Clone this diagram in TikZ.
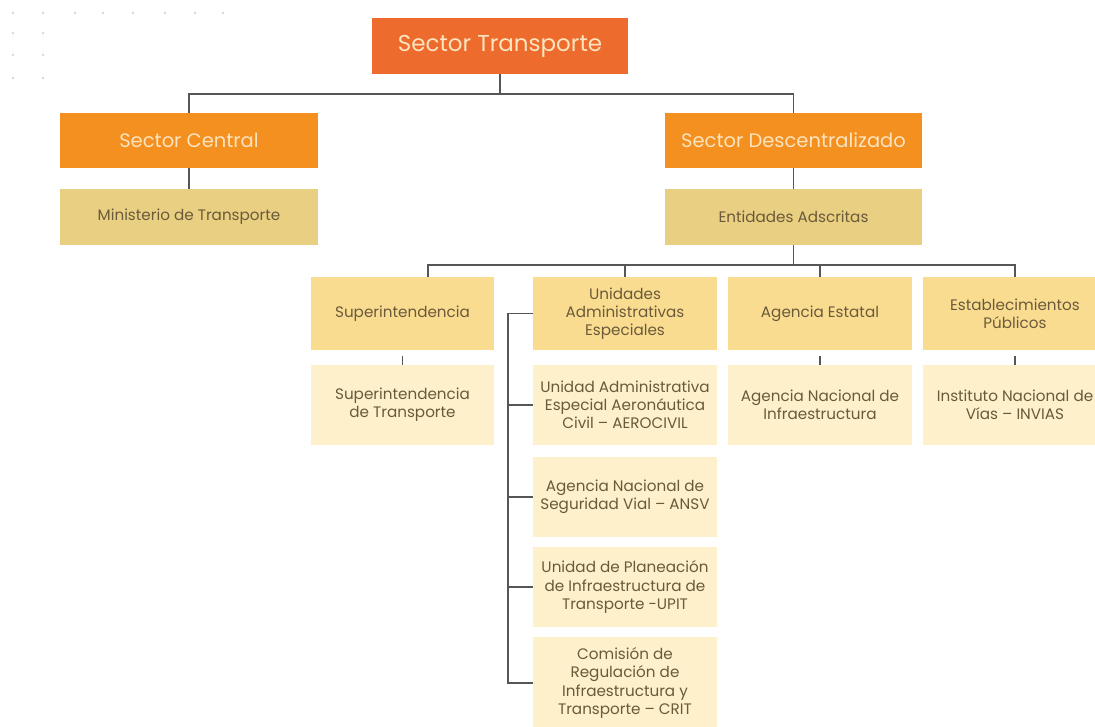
\documentclass[tikz,border=0pt]{standalone}
\usepackage{fontspec}
\setmainfont{Poppins}
\definecolor{topor}{HTML}{EC6B2D}
\definecolor{midor}{HTML}{F4901F}
\definecolor{tanbox}{HTML}{E9CF82}
\definecolor{yelbox}{HTML}{FADC91}
\definecolor{crmbox}{HTML}{FDF0CA}
\definecolor{boxtxt}{HTML}{6A5A3A}
\definecolor{headtxt}{HTML}{FDE3BE}
\definecolor{linkgr}{HTML}{565656}
\tikzset{
    box/.style={rectangle,inner sep=2pt,align=center,font=\fontsize{15.2}{18.2}\selectfont,text=boxtxt},
    headbox/.style={box,fill=midor,minimum width=258pt,minimum height=55pt,text=headtxt,font=\fontsize{19.5}{23}\selectfont},
    tanrow/.style={box,fill=tanbox,minimum width=258pt,minimum height=56pt},
    grpbox/.style={box,fill=yelbox,minimum width=184pt,minimum height=73pt},
    entbox/.style={box,fill=crmbox,minimum width=184pt,minimum height=80pt},
    link/.style={draw=linkgr,line width=1.2pt}
}
\begin{document}
\begin{tikzpicture}[x=1pt,y=-1pt]
    \useasboundingbox (0,0) rectangle (1095,726);
    \fill[white] (0,0) rectangle (1095,726);
    % faint dot pattern
    \foreach \x in {13,43,75,103,133,165,195,223}{
        \fill[black!15] (\x,13) circle (1.3);
    }
    \foreach \y in {33,55,78}{
        \foreach \x in {13,43}{
            \fill[black!15] (\x,\y) circle (1.3);
        }
    }

    \node[box,fill=topor,minimum width=256pt,minimum height=56pt,text=headtxt,font=\fontsize{23}{27}\selectfont] (top) at (500,46) {Sector Transporte};
    \node[headbox] (central) at (189,140.5) {Sector Central};
    \node[headbox,minimum width=257pt] (desc) at (793.5,140.5) {Sector Descentralizado};
    \node[tanrow] (mint) at (189,217) {Ministerio de Transporte};
    \node[tanrow,minimum width=257pt] (ent) at (793.5,217) {Entidades Adscritas};

    \node[grpbox,minimum width=183pt] (sup) at (402.5,313.5) {Superintendencia};
    \node[grpbox] (uae) at (625,313.5) {Unidades\\Administrativas\\Especiales};
    \node[grpbox] (age) at (820,313.5) {Agencia Estatal};
    \node[grpbox] (est) at (1015,313.5) {Establecimientos\\P\'ublicos};

    \node[entbox,minimum width=183pt] (supt) at (402.5,405) {Superintendencia\\de Transporte};
    \node[entbox] (aero) at (625,405) {Unidad Administrativa\\Especial Aeron\'autica\\Civil -- AEROCIVIL};
    \node[entbox] (ani) at (820,405) {Agencia Nacional de\\Infraestructura};
    \node[entbox] (inv) at (1015,405) {Instituto Nacional de\\V\'ias -- INVIAS};
    \node[entbox] (ansv) at (625,497) {Agencia Nacional de\\Seguridad Vial -- ANSV};
    \node[entbox] (upit) at (625,587) {Unidad de Planeaci\'on\\de Infraestructura de\\Transporte -UPIT};
    \node[entbox,minimum height=92pt] (crit) at (625,683) {Comisi\'on de\\Regulaci\'on de\\Infraestructura y\\Transporte -- CRIT};

    % upper tree
    \coordinate (bus1) at (500,94);
    \draw[link] (top.south) -- (bus1);
    \draw[link] (central.north) |- (bus1) -| (desc.north);
    \draw[link] (central.south) -- (mint.north);
    \draw[link] (desc.south) -- (ent.north);

    % entidades bus
    \coordinate (bus2) at (793.5,265);
    \coordinate (supdrop) at (428,265);
    \draw[link] (ent.south) -- (bus2);
    \draw[link] (supdrop |- sup.north) -- (supdrop) -- (bus2 -| est.north) -- (est.north);
    \foreach \n in {uae,age}{
        \draw[link] (\n.north) -- (\n.north |- bus2);
    }
    \foreach \a/\b in {sup/supt,age/ani,est/inv}{
        \draw[link,shorten <=6pt] (\a.south) -- (\b.north);
    }

    % bracket of the special units
    \coordinate (spine) at (508,313.5);
    \draw[link] (uae.west) -- (spine) -- (spine |- crit.west) -- (crit.west);
    \foreach \n in {aero,ansv,upit}{
        \draw[link] (\n.west) -- (\n.west -| spine);
    }
\end{tikzpicture}
\end{document}
